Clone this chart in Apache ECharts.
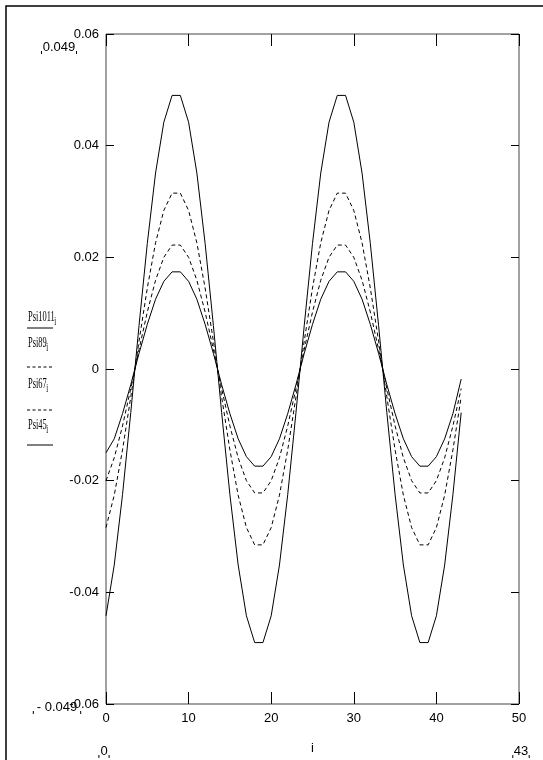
<!DOCTYPE html>
<html>
<head>
<meta charset="utf-8">
<script src="https://cdn.jsdelivr.net/npm/echarts@6/dist/echarts.min.js"></script>
<style>
html,body{margin:0;padding:0;background:#fff;}
#chart{width:543px;height:760px;}
</style>
</head>
<body>
<div id="chart"></div>
<script>
// index i
const iValues = [0,1,2,3,4,5,6,7,8,9,10,11,12,13,14,15,16,17,18,19,20,21,22,23,24,25,26,27,28,29,30,31,32,33,34,35,36,37,38,39,40,41,42,43];

// series values
const psi1011 = [-0.0442,-0.0351,-0.0225,-0.0078,0.0078,0.0225,0.0351,0.0442,0.049,0.049,
  0.0442,0.0351,0.0225,0.0078,-0.0078,-0.0225,-0.0351,-0.0442,-0.049,-0.049,
  -0.0442,-0.0351,-0.0225,-0.0078,0.0078,0.0225,0.0351,0.0442,0.049,0.049,
  0.0442,0.0351,0.0225,0.0078,-0.0078,-0.0225,-0.0351,-0.0442,-0.049,-0.049,
  -0.0442,-0.0351,-0.0225,-0.0078];
const psi89 = [-0.0284,-0.0226,-0.0145,-0.0050,0.0050,0.0145,0.0226,0.0284,0.0315,0.0315,
  0.0284,0.0226,0.0145,0.0050,-0.0050,-0.0145,-0.0226,-0.0284,-0.0315,-0.0315,
  -0.0284,-0.0226,-0.0145,-0.0050,0.0050,0.0145,0.0226,0.0284,0.0315,0.0315,
  0.0284,0.0226,0.0145,0.0050,-0.0050,-0.0145,-0.0226,-0.0284,-0.0315,-0.0315,
  -0.0284,-0.0226,-0.0145,-0.0050];
const psi67 = [-0.0200,-0.0159,-0.0102,-0.0035,0.0035,0.0102,0.0159,0.0200,0.0222,0.0222,
  0.0200,0.0159,0.0102,0.0035,-0.0035,-0.0102,-0.0159,-0.0200,-0.0222,-0.0222,
  -0.0200,-0.0159,-0.0102,-0.0035,0.0035,0.0102,0.0159,0.0200,0.0222,0.0222,
  0.0200,0.0159,0.0102,0.0035,-0.0035,-0.0102,-0.0159,-0.0200,-0.0222,-0.0222,
  -0.0200,-0.0159,-0.0102,-0.0035];
const psi45 = [-0.0150,-0.0125,-0.0080,-0.0028,0.0028,0.0080,0.0125,0.0157,0.0174,0.0174,
  0.0157,0.0125,0.0080,0.0028,-0.0028,-0.0080,-0.0125,-0.0157,-0.0174,-0.0174,
  -0.0157,-0.0125,-0.0080,-0.0028,0.0028,0.0080,0.0125,0.0157,0.0174,0.0174,
  0.0157,0.0125,0.0080,0.0028,-0.0028,-0.0080,-0.0125,-0.0157,-0.0174,-0.0174,
  -0.0157,-0.0125,-0.0080,-0.0018];

const seriesNames = ['Psi1011','Psi89','Psi67','Psi45'];
const seriesDash = ['solid','dashed','dashed','solid'];
const yMarkerTop = '0.049';
const yMarkerBottom = '- 0.049';
const xMarkerLeft = '0';
const xMarkerRight = '43';
const xName = 'i';

const tickFont = "'Liberation Sans',Arial,sans-serif";
const legendFont = "'Liberation Serif','Times New Roman',serif";

function pairs(arr){ return iValues.map((x,k)=>[x,arr[k]]); }
function fmt(v){ return (+v.toFixed(2)).toString(); }

const chart = echarts.init(document.getElementById('chart'), null, {renderer:'canvas'});

const allData = [psi1011, psi89, psi67, psi45];
const series = allData.map((d,k)=>({
  name: seriesNames[k],
  type:'line',
  data: pairs(d),
  showSymbol:false,
  symbol:'none',
  animation:false,
  lineStyle:{color:'#000', width:1, type: seriesDash[k]==='dashed' ? [4,3] : 'solid'},
  z: 3
}));

// legend graphics
const legendTextY = [317, 343, 384, 425];
const legendLineY = [328, 367, 410, 445];
const legendSubX = [47, 32.5, 32.5, 32.5];
const graphics = [];
seriesNames.forEach((n,k)=>{
  graphics.push({
    type:'group', x:28, y:legendTextY[k], scaleX:0.56, scaleY:1,
    children:[
      {type:'text', x:0, y:0, style:{text:n, font:'15px '+legendFont, fill:'#000', verticalAlign:'middle'}},
      {type:'text', x:legendSubX[k], y:5, style:{text:'i', font:'12px '+legendFont, fill:'#000', verticalAlign:'middle'}}
    ]
  });
  graphics.push({
    type:'line', shape:{x1:27, y1:legendLineY[k], x2:53, y2:legendLineY[k]},
    style:{stroke:'#000', lineWidth:1, lineDash: seriesDash[k]==='dashed' ? [3,2.5] : null}
  });
});

// outer frame (left and top edges)
graphics.push({type:'polyline', shape:{points:[[6,800],[6,6],[600,6]]}, style:{stroke:'#000', lineWidth:1.5, fill:null}});

// range markers
function marker(text, cx, cy){
  const w = text.length*6.2;
  graphics.push({type:'text', x:cx, y:cy, style:{text:text, font:'13px '+tickFont, fill:'#000', align:'center', verticalAlign:'middle'}});
  const l = cx - w/2 - 2, r = cx + w/2 + 2, b = cy + 6;
  graphics.push({type:'line', shape:{x1:l, y1:b-2, x2:l, y2:b+1}, style:{stroke:'#000', lineWidth:1}});
  graphics.push({type:'line', shape:{x1:r, y1:b-2, x2:r, y2:b+1}, style:{stroke:'#000', lineWidth:1}});
}
marker(yMarkerTop, 59, 47);
marker(yMarkerBottom, 57, 707);
marker(xMarkerLeft, 104, 751);
marker(xMarkerRight, 521, 751);

const option = {
  animation:false,
  backgroundColor:'#fff',
  grid:{left:106, top:34, width:413, height:671, show:true, borderColor:'#444', borderWidth:1, backgroundColor:'transparent', containLabel:false},
  xAxis:[{
    type:'value', min:0, max:50, interval:10, position:'bottom',
    name:xName, nameLocation:'middle', nameGap:38,
    nameTextStyle:{fontFamily:tickFont, fontSize:13, color:'#000'},
    axisLine:{show:false, onZero:false},
    axisTick:{show:true, inside:true, length:12, lineStyle:{color:'#000', width:1}},
    axisLabel:{show:true, margin:8, fontFamily:tickFont, fontSize:13, color:'#000'},
    splitLine:{show:false}
  },{
    type:'value', min:0, max:50, interval:10, position:'top',
    axisLine:{show:false, onZero:false},
    axisTick:{show:true, inside:true, length:12, lineStyle:{color:'#000', width:1}},
    axisLabel:{show:false}, splitLine:{show:false}
  }],
  yAxis:[{
    type:'value', min:-0.06, max:0.06, interval:0.02, position:'left',
    axisLine:{show:false, onZero:false},
    axisTick:{show:true, inside:true, length:8, lineStyle:{color:'#000', width:1}},
    axisLabel:{show:true, margin:7, fontFamily:tickFont, fontSize:13, color:'#000', formatter:fmt},
    splitLine:{show:false}
  },{
    type:'value', min:-0.06, max:0.06, interval:0.02, position:'right',
    axisLine:{show:false, onZero:false},
    axisTick:{show:true, inside:true, length:8, lineStyle:{color:'#000', width:1}},
    axisLabel:{show:false}, splitLine:{show:false}
  }],
  series: series,
  graphic: graphics
};
chart.setOption(option);
</script>
</body>
</html>
